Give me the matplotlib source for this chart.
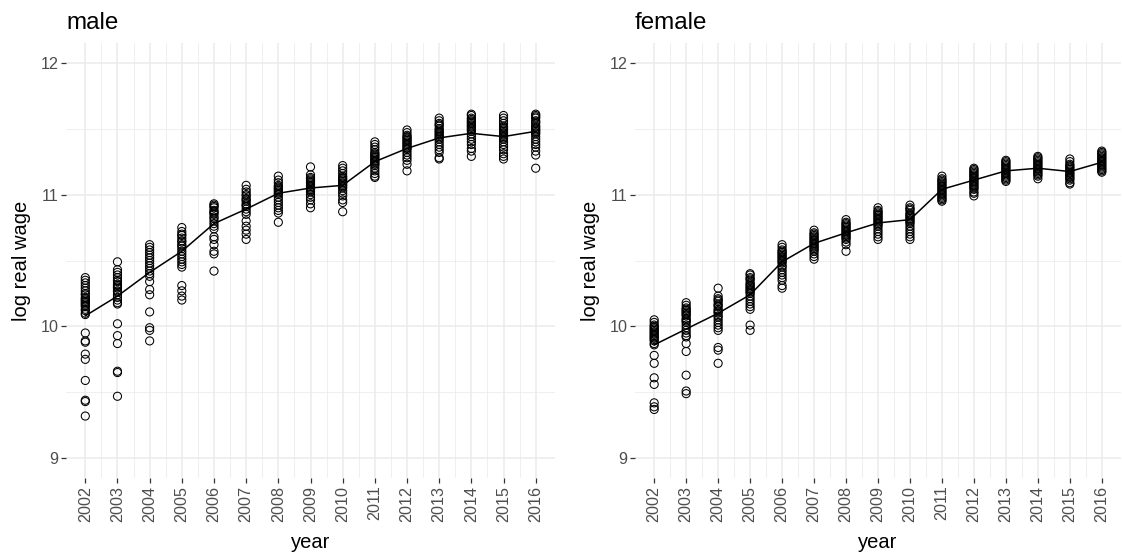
import matplotlib
matplotlib.use("Agg")
import matplotlib.pyplot as plt
from matplotlib.ticker import MultipleLocator, FixedLocator

plt.rcParams['font.family'] = ['Liberation Sans', 'DejaVu Sans']

years = list(range(2002, 2017))

# log real wage by region, one list per year
male_wage = [
    [10.37, 10.35, 10.33, 10.31, 10.29, 10.27, 10.25, 10.24, 10.22, 10.21, 10.20, 10.19, 10.18, 10.17,
     10.16, 10.15, 10.13, 10.12, 10.10, 10.09, 9.95, 9.89, 9.88, 9.79, 9.75, 9.59, 9.44, 9.43, 9.32],
    [10.49, 10.43, 10.41, 10.39, 10.37, 10.35, 10.34, 10.32, 10.31, 10.30, 10.29, 10.27, 10.26, 10.24,
     10.22, 10.20, 10.18, 10.17, 10.02, 9.93, 9.87, 9.66, 9.65, 9.47],
    [10.62, 10.60, 10.58, 10.56, 10.54, 10.52, 10.50, 10.48, 10.46, 10.44, 10.42, 10.40, 10.38, 10.34,
     10.28, 10.24, 10.11, 9.99, 9.97, 9.89],
    [10.75, 10.72, 10.70, 10.69, 10.67, 10.65, 10.64, 10.62, 10.61, 10.59, 10.57, 10.55, 10.53, 10.51,
     10.49, 10.47, 10.45, 10.31, 10.27, 10.23, 10.20],
    [10.93, 10.92, 10.91, 10.90, 10.88, 10.87, 10.86, 10.85, 10.83, 10.82, 10.80, 10.78, 10.76, 10.74,
     10.68, 10.66, 10.62, 10.57, 10.55, 10.42],
    [11.07, 11.04, 11.02, 11.00, 10.99, 10.97, 10.96, 10.95, 10.93, 10.92, 10.91, 10.89, 10.87, 10.85,
     10.80, 10.76, 10.73, 10.70, 10.66],
    [11.14, 11.11, 11.09, 11.07, 11.06, 11.05, 11.04, 11.03, 11.02, 11.01, 11.00, 10.98, 10.96, 10.94,
     10.92, 10.90, 10.88, 10.86, 10.79],
    [11.21, 11.15, 11.13, 11.12, 11.11, 11.10, 11.09, 11.08, 11.07, 11.06, 11.05, 11.04, 11.03, 11.02,
     11.00, 10.98, 10.96, 10.93, 10.90],
    [11.22, 11.20, 11.18, 11.16, 11.14, 11.13, 11.12, 11.11, 11.10, 11.09, 11.08, 11.07, 11.06, 11.05,
     11.03, 11.01, 10.99, 10.96, 10.94, 10.87],
    [11.40, 11.38, 11.36, 11.34, 11.32, 11.31, 11.30, 11.29, 11.28, 11.27, 11.26, 11.25, 11.24, 11.23,
     11.22, 11.20, 11.18, 11.16, 11.14, 11.13],
    [11.49, 11.47, 11.45, 11.44, 11.43, 11.42, 11.41, 11.40, 11.39, 11.38, 11.37, 11.36, 11.35, 11.34,
     11.32, 11.30, 11.28, 11.26, 11.23, 11.18],
    [11.58, 11.56, 11.54, 11.53, 11.52, 11.50, 11.49, 11.48, 11.47, 11.46, 11.45, 11.44, 11.43, 11.42,
     11.40, 11.38, 11.36, 11.34, 11.32, 11.28, 11.27],
    [11.61, 11.60, 11.58, 11.57, 11.56, 11.55, 11.54, 11.53, 11.52, 11.51, 11.50, 11.49, 11.48, 11.46,
     11.44, 11.42, 11.40, 11.38, 11.35, 11.33, 11.29],
    [11.60, 11.58, 11.56, 11.54, 11.52, 11.51, 11.50, 11.49, 11.48, 11.47, 11.46, 11.45, 11.44, 11.43,
     11.42, 11.40, 11.38, 11.36, 11.34, 11.31, 11.29, 11.27],
    [11.61, 11.60, 11.59, 11.58, 11.56, 11.55, 11.54, 11.52, 11.51, 11.50, 11.49, 11.48, 11.47, 11.46,
     11.44, 11.42, 11.40, 11.38, 11.36, 11.33, 11.30, 11.20],
]

female_wage = [
    [10.05, 10.03, 10.01, 10.00, 9.99, 9.98, 9.97, 9.96, 9.95, 9.94, 9.93, 9.92, 9.91, 9.90, 9.89,
     9.87, 9.86, 9.78, 9.72, 9.61, 9.56, 9.42, 9.39, 9.37],
    [10.18, 10.16, 10.14, 10.13, 10.12, 10.11, 10.10, 10.09, 10.08, 10.06, 10.05, 10.04, 10.03, 10.01,
     9.99, 9.97, 9.95, 9.93, 9.92, 9.87, 9.81, 9.63, 9.51, 9.49],
    [10.29, 10.23, 10.21, 10.20, 10.19, 10.17, 10.16, 10.15, 10.13, 10.12, 10.11, 10.10, 10.08, 10.07,
     10.05, 10.03, 10.01, 9.99, 9.97, 9.84, 9.82, 9.72],
    [10.40, 10.39, 10.37, 10.36, 10.35, 10.33, 10.32, 10.31, 10.30, 10.29, 10.28, 10.27, 10.26, 10.25,
     10.23, 10.21, 10.19, 10.17, 10.15, 10.13, 10.01, 9.97],
    [10.62, 10.60, 10.58, 10.57, 10.56, 10.55, 10.54, 10.53, 10.52, 10.51, 10.50, 10.49, 10.48, 10.46,
     10.45, 10.43, 10.41, 10.39, 10.37, 10.35, 10.31, 10.29],
    [10.73, 10.71, 10.70, 10.69, 10.68, 10.67, 10.66, 10.65, 10.64, 10.63, 10.62, 10.61, 10.60, 10.59,
     10.58, 10.57, 10.55, 10.53, 10.51],
    [10.81, 10.79, 10.78, 10.77, 10.76, 10.75, 10.74, 10.73, 10.72, 10.71, 10.70, 10.69, 10.68, 10.67,
     10.66, 10.64, 10.62, 10.57],
    [10.90, 10.88, 10.87, 10.86, 10.85, 10.84, 10.83, 10.82, 10.81, 10.80, 10.79, 10.78, 10.77, 10.76,
     10.74, 10.72, 10.70, 10.68, 10.66],
    [10.92, 10.90, 10.89, 10.88, 10.86, 10.85, 10.84, 10.83, 10.82, 10.81, 10.80, 10.79, 10.78, 10.76,
     10.74, 10.72, 10.70, 10.68, 10.66],
    [11.14, 11.12, 11.11, 11.10, 11.09, 11.08, 11.07, 11.06, 11.05, 11.04, 11.03, 11.02, 11.01, 11.00,
     10.99, 10.98, 10.97, 10.96, 10.95],
    [11.20, 11.19, 11.18, 11.17, 11.16, 11.15, 11.14, 11.13, 11.12, 11.11, 11.10, 11.09, 11.08, 11.07,
     11.06, 11.05, 11.04, 11.02, 11.01, 10.99],
    [11.26, 11.25, 11.24, 11.23, 11.22, 11.21, 11.20, 11.19, 11.18, 11.17, 11.16, 11.15, 11.14, 11.13,
     11.12, 11.11, 11.10],
    [11.29, 11.28, 11.27, 11.26, 11.25, 11.24, 11.23, 11.22, 11.21, 11.20, 11.19, 11.18, 11.17, 11.16,
     11.15, 11.14, 11.12],
    [11.27, 11.25, 11.23, 11.22, 11.21, 11.20, 11.19, 11.18, 11.17, 11.16, 11.15, 11.14, 11.13, 11.12,
     11.11, 11.09, 11.08],
    [11.33, 11.32, 11.31, 11.30, 11.29, 11.28, 11.27, 11.26, 11.25, 11.24, 11.23, 11.22, 11.21, 11.20,
     11.19, 11.18, 11.17],
]

# national average per year
male_avg = [10.08, 10.23, 10.41, 10.57, 10.78, 10.89, 11.01, 11.05, 11.07, 11.25, 11.35, 11.43, 11.465, 11.44, 11.48]
female_avg = [9.86, 9.98, 10.10, 10.24, 10.49, 10.63, 10.71, 10.785, 10.81, 11.04, 11.11, 11.18, 11.20, 11.175, 11.245]

W, H = 1122, 556
fig = plt.figure(figsize=(W / 100, H / 100), dpi=100)
top, bottom = 43, 478
ax_m = fig.add_axes([66 / W, 1 - bottom / H, (555 - 66) / W, (bottom - top) / H])
ax_f = fig.add_axes([635 / W, 1 - bottom / H, (1121 - 635) / W, (bottom - top) / H])


def draw_panel(ax, title, wages, avg):
    for yr, vals in zip(years, wages):
        ax.scatter([yr] * len(vals), vals, s=34, facecolors='none', edgecolors='black',
                   linewidths=0.75, zorder=3)
    ax.plot(years, avg, color='black', lw=1.1, zorder=4)

    ax.set_xlim(2001.4, 2016.6)
    ax.set_ylim(8.85, 12.15)
    ax.set_xticks(years)
    ax.set_xticklabels([str(y) for y in years], rotation=90)
    ax.xaxis.set_minor_locator(FixedLocator([y + 0.5 for y in years[:-1]]))
    ax.set_yticks([9, 10, 11, 12])
    ax.yaxis.set_minor_locator(MultipleLocator(0.5))

    ax.grid(which='major', color='#EBEBEB', lw=1.1)
    ax.grid(which='minor', color='#EBEBEB', lw=0.55)
    ax.set_axisbelow(True)
    for sp in ax.spines.values():
        sp.set_visible(False)
    ax.tick_params(which='major', length=3.5, width=0.9, color='#333333',
                   labelcolor='#4D4D4D', labelsize=11.6, pad=2)
    ax.tick_params(which='minor', length=0)

    ax.set_xlabel('year', fontsize=14.5, labelpad=8)
    ax.set_ylabel('log real wage', fontsize=14.5, labelpad=7)
    ax.set_title(title, loc='left', fontsize=17.4, pad=10)


draw_panel(ax_m, 'male', male_wage, male_avg)
draw_panel(ax_f, 'female', female_wage, female_avg)

fig.savefig('out.png', dpi=100, facecolor='white')
